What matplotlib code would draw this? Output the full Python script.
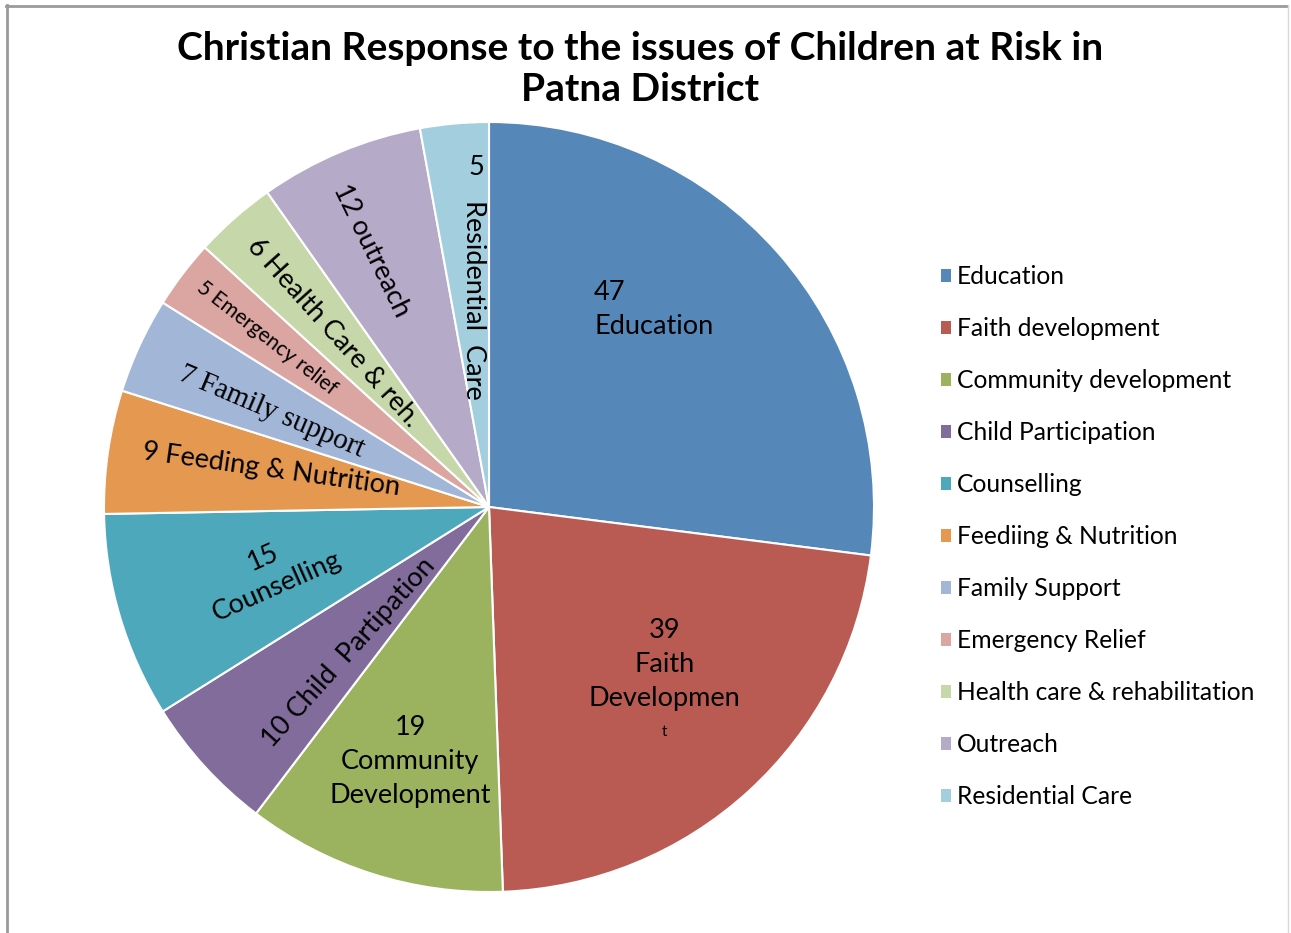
import matplotlib.pyplot as plt
from matplotlib.lines import Line2D
from matplotlib.patches import Patch

plt.rcParams['font.family'] = ['Lato', 'DejaVu Sans']

# data
values = [47, 39, 19, 10, 15, 9, 7, 5, 6, 12, 5]
legend_labels = ['Education', 'Faith development', 'Community development',
                 'Child Participation', 'Counselling', 'Feediing & Nutrition',
                 'Family Support', 'Emergency Relief', 'Health care & rehabilitation',
                 'Outreach', 'Residential Care']
slice_names = ['Education', 'Faith\nDevelopmen', 'Community\nDevelopment',
               'Child  Partipation', 'Counselling', 'Feeding & Nutrition',
               'Family support', 'Emergency relief', 'Health Care & reh.',
               'outreach', 'Residential  Care']
colors = ['#5587B8', '#B95B53', '#9BB35E', '#816C9B', '#4EA8BB', '#E49850',
          '#A2B6D8', '#DBA5A2', '#C6D7A9', '#B5AAC8', '#A3CEDD']

W, H = 1291, 933
fig = plt.figure(figsize=(W / 100, H / 100), dpi=100)
fig.patch.set_facecolor('white')

# pie axes: centre (489, 507) px, radius 385 px
cx, cy, r = 489, 507, 385
ax = fig.add_axes([(cx - r) / W, (H - cy - r) / H, 2 * r / W, 2 * r / H])
wedges, _ = ax.pie(values, colors=colors, startangle=90, counterclock=False,
                   radius=1, wedgeprops=dict(edgecolor='white', linewidth=1.5))
ax.set_xlim(-1, 1)
ax.set_ylim(-1, 1)
ax.set_aspect('auto')
ax.axis('off')

fs = 19.5
ls = 1.45
# in-slice labels (x, y in pie units, rotation)
ax.text(0.273, 0.512, f'{values[0]}\n{slice_names[0]}', ha='left', va='center',
        fontsize=fs, linespacing=ls)
ax.text(0.455, -0.408, f'{values[1]}\n{slice_names[1]}', ha='center', va='center',
        fontsize=fs, linespacing=ls)
ax.text(0.455, -0.585, 't', ha='center', va='center', fontsize=11)
ax.text(-0.205, -0.660, f'{values[2]}\n{slice_names[2]}', ha='center', va='center',
        fontsize=fs, linespacing=ls)
ax.text(-0.364, -0.377, f'{values[3]} {slice_names[3]}', ha='center', va='center',
        fontsize=fs, rotation=48, rotation_mode='anchor')
ax.text(-0.569, -0.169, f'{values[4]}\n{slice_names[4]}', ha='center', va='center',
        fontsize=fs, rotation=24, rotation_mode='anchor', linespacing=1.35)
ax.text(-0.566, 0.096, f'{values[5]} {slice_names[5]}', ha='center', va='center',
        fontsize=fs, rotation=-8, rotation_mode='anchor')
ax.text(-0.564, 0.247, f'{values[6]} {slice_names[6]}', ha='center', va='center',
        fontsize=21, rotation=-23, rotation_mode='anchor', family='Liberation Serif')
ax.text(-0.577, 0.439, f'{values[7]} {slice_names[7]}', ha='center', va='center',
        fontsize=15, rotation=-38, rotation_mode='anchor')
ax.text(-0.405, 0.452, f'{values[8]} {slice_names[8]}', ha='center', va='center',
        fontsize=fs, rotation=-48, rotation_mode='anchor')
ax.text(-0.306, 0.665, f'{values[9]} {slice_names[9]}', ha='center', va='center',
        fontsize=fs, rotation=-64, rotation_mode='anchor')
ax.text(-0.034, 0.881, f'{values[10]}', ha='center', va='center', fontsize=fs)
ax.text(-0.039, 0.538, slice_names[10], ha='center', va='center',
        fontsize=fs, rotation=-90, rotation_mode='anchor')

# title
fig.text(640 / W, 1 - 69 / H,
         'Christian Response to the issues of Children at Risk in\nPatna District',
         ha='center', va='center', fontsize=28, fontweight='bold', linespacing=1.22)

# legend
handles = [Patch(facecolor=c, edgecolor='none') for c in colors]
fig.legend(handles, legend_labels, loc='upper left', bbox_to_anchor=(919 / W, 1 - 243 / H),
           frameon=False, fontsize=17.7, handlelength=0.4, handleheight=0.4,
           handletextpad=0.25, labelspacing=1.18)

# chart frame
fig.add_artist(Line2D([6 / W, 1287 / W], [1 - 5.5 / H, 1 - 5.5 / H], color='#9a9a9a', lw=2,
                      transform=fig.transFigure))
fig.add_artist(Line2D([6.5 / W, 6.5 / W], [0, 1 - 5 / H], color='#9a9a9a', lw=2,
                      transform=fig.transFigure))
fig.add_artist(Line2D([1287.5 / W, 1287.5 / W], [0, 1 - 5 / H], color='#d8d8d8', lw=1,
                      transform=fig.transFigure))

fig.savefig('out.png', dpi=100)
